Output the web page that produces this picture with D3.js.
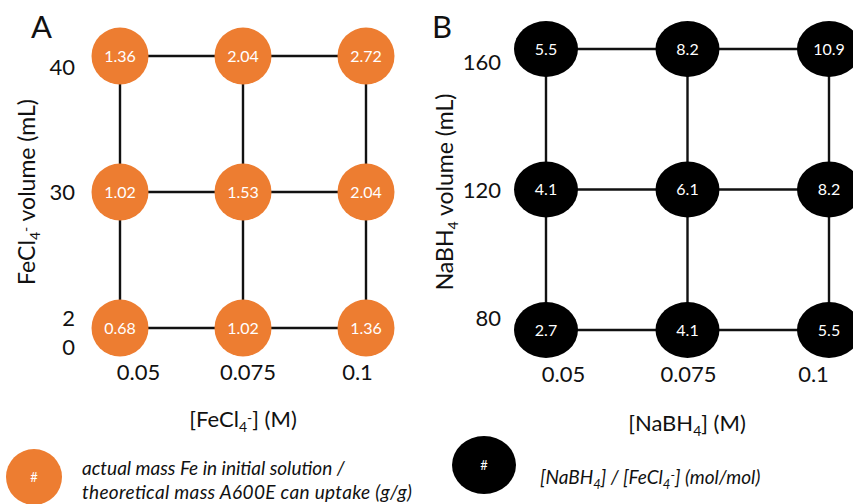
<!DOCTYPE html>
<html>
<head>
<meta charset="utf-8">
<script src="https://cdn.jsdelivr.net/npm/d3@7"></script>
<style>
  body { margin: 0; background: #fff; }
  svg { font-family: Lato, "Open Sans", sans-serif; }
</style>
</head>
<body>
<div id="chart"><svg width="853" height="504"></svg></div>
<script>
/***** DATA *****/
const concLevels = ["0.05", "0.075", "0.1"];
const feVolumes = ["20", "30", "40"];
const nabhVolumes = ["80", "120", "160"];
// rows follow volume (low -> high), columns follow concentration
const massRatio = [
    ["0.68", "1.02", "1.36"],
    ["1.02", "1.53", "2.04"],
    ["1.36", "2.04", "2.72"]
];
const molRatio = [
    ["2.7", "4.1", "5.5"],
    ["4.1", "6.1", "8.2"],
    ["5.5", "8.2", "10.9"]
];

const svg = d3.select("#chart").select("svg");
const ORANGE = "#ED7D31";

function cells(grid, vols) {
    const out = [];
    grid.forEach((row, i) => row.forEach((v, j) => out.push({vol: vols[i], conc: concLevels[j], v: v})));
    return out;
}

function drawPanel(opt) {
    const g = svg.append("g");
    const x = d3.scalePoint().domain(concLevels).range(opt.xRange);
    const y = d3.scalePoint().domain(opt.vols).range(opt.yRange);
    const data = cells(opt.grid, opt.vols);

    // grid lines
    opt.vols.forEach(v => {
        g.append("line")
            .attr("x1", x(concLevels[0])).attr("x2", x(concLevels[2]))
            .attr("y1", y(v)).attr("y2", y(v))
            .attr("stroke", "#111").attr("stroke-width", 2.4);
    });
    concLevels.forEach(c => {
        g.append("line")
            .attr("x1", x(c)).attr("x2", x(c))
            .attr("y1", y(opt.vols[0])).attr("y2", y(opt.vols[2]))
            .attr("stroke", "#111").attr("stroke-width", 2.4);
    });

    g.selectAll(".node")
        .data(data)
        .enter()
        .append("ellipse")
        .attr("cx", d => x(d.conc))
        .attr("cy", d => y(d.vol))
        .attr("rx", opt.rx)
        .attr("ry", opt.ry)
        .attr("fill", opt.fill);

    g.selectAll(".val")
        .data(data)
        .enter()
        .append("text")
        .attr("x", d => x(d.conc))
        .attr("y", d => y(d.vol))
        .attr("dy", "0.35em")
        .attr("text-anchor", "middle")
        .attr("fill", "#fff")
        .style("font-size", "16px")
        .text(d => d.v);

    // x tick labels
    const xTick = d3.scalePoint().domain(concLevels).range(opt.xTickRange);
    g.append("g")
        .attr("transform", `translate(0, ${opt.xTickY})`)
        .call(d3.axisBottom(xTick).tickSize(0).tickPadding(0))
        .call(a => a.select(".domain").remove())
        .selectAll("text")
        .attr("fill", "#111")
        .style("font-family", "Lato, 'Open Sans', sans-serif")
        .style("font-size", "22px");

    // y tick labels
    const yTick = d3.scalePoint().domain(opt.vols).range(opt.yTickRange);
    g.append("g")
        .attr("transform", `translate(${opt.yTickX}, 0)`)
        .call(d3.axisLeft(yTick).tickSize(0).tickPadding(0).tickFormat(opt.yFormat || null))
        .call(a => a.select(".domain").remove())
        .selectAll("text")
        .attr("fill", "#111")
        .style("font-family", "Lato, 'Open Sans', sans-serif")
        .style("font-size", "22px");

    // panel letter
    g.append("text")
        .attr("x", opt.letterX).attr("y", 38)
        .style("font-size", "31px")
        .attr("fill", "#111")
        .text(opt.letter);
    return {g: g, yTick: yTick};
}

/***** PANEL A *****/
const A = drawPanel({
    grid: massRatio, vols: feVolumes, fill: ORANGE,
    xRange: [120, 366], yRange: [328, 56], rx: 28.5, ry: 28.5,
    xTickRange: [138, 357], xTickY: 364,
    yTickRange: [318, 67], yTickX: 75,
    yFormat: d => d === "20" ? "2" : d,
    letter: "A", letterX: 31
});
// the "20" label wraps onto two lines in the original
A.g.append("text")
    .attr("x", 75).attr("y", 348).attr("dy", "0.32em")
    .attr("text-anchor", "end").attr("fill", "#111")
    .style("font-size", "22px")
    .text("0");

/***** PANEL B *****/
drawPanel({
    grid: molRatio, vols: nabhVolumes, fill: "#000",
    xRange: [546, 829], yRange: [330, 49], rx: 32, ry: 28,
    xTickRange: [563, 813], xTickY: 366,
    yTickRange: [318, 62], yTickX: 501,
    letter: "B", letterX: 432
});

/***** AXIS TITLES *****/
function subText(sel, parts, small) {
    parts.forEach(p => {
        const t = sel.append("tspan").text(p.t);
        if (p.sub) t.style("font-size", small).attr("dy", 5);
        if (p.sup) t.style("font-size", small).attr("dy", -9);
        if (p.back) t.attr("dy", p.back);
    });
}

subText(svg.append("text")
    .attr("x", 243).attr("y", 427).attr("text-anchor", "middle")
    .attr("fill", "#111").style("font-size", "22px"),
    [{t: "[FeCl"}, {t: "4", sub: true}, {t: "-", sup: true}, {t: "] (M)", back: 4}], "14px");

subText(svg.append("text")
    .attr("x", 687).attr("y", 431).attr("text-anchor", "middle")
    .attr("fill", "#111").style("font-size", "22px"),
    [{t: "[NaBH"}, {t: "4", sub: true}, {t: "] (M)", back: -5}], "14px");

subText(svg.append("text")
    .attr("transform", "translate(35, 192) rotate(-90)").attr("text-anchor", "middle")
    .attr("fill", "#111").style("font-size", "23px"),
    [{t: "FeCl"}, {t: "4", sub: true}, {t: "-", sup: true}, {t: " volume (mL)", back: 4}], "14px");

subText(svg.append("text")
    .attr("transform", "translate(453, 192) rotate(-90)").attr("text-anchor", "middle")
    .attr("fill", "#111").style("font-size", "23px"),
    [{t: "NaBH"}, {t: "4", sub: true}, {t: " volume (mL)", back: -5}], "14px");

/***** LEGENDS *****/
const legA = svg.append("g");
legA.append("circle").attr("cx", 34).attr("cy", 477).attr("r", 28).attr("fill", ORANGE);
legA.append("text").attr("x", 34).attr("y", 477).attr("dy", "0.35em")
    .attr("text-anchor", "middle").attr("fill", "#fff").style("font-size", "13px").text("#");
legA.append("text").attr("x", 82).attr("y", 475)
    .attr("fill", "#111").style("font-size", "19px").style("font-style", "italic")
    .text("actual mass Fe in initial solution /");
legA.append("text").attr("x", 82).attr("y", 499)
    .attr("fill", "#111").style("font-size", "19px").style("font-style", "italic")
    .attr("textLength", 330)
    .text("theoretical mass A600E can uptake (g/g)");

const legB = svg.append("g");
legB.append("ellipse").attr("cx", 484).attr("cy", 465).attr("rx", 32).attr("ry", 29).attr("fill", "#000");
legB.append("text").attr("x", 484).attr("y", 465).attr("dy", "0.35em")
    .attr("text-anchor", "middle").attr("fill", "#fff").style("font-size", "13px").text("#");
subText(legB.append("text").attr("x", 540).attr("y", 484)
    .attr("fill", "#111").style("font-size", "19px").style("font-style", "italic"),
    [{t: "[NaBH"}, {t: "4", sub: true}, {t: "] / [FeCl", back: -5}, {t: "4", sub: true}, {t: "-", sup: true}, {t: "] (mol/mol)", back: 4}], "13px");
</script>
</body>
</html>
